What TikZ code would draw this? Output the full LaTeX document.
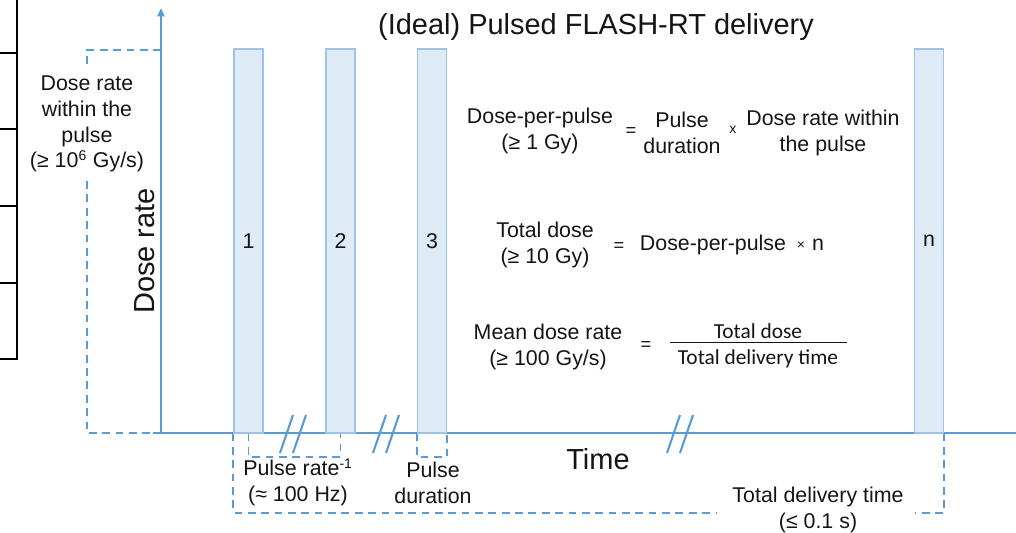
\documentclass[tikz,border=0pt]{standalone}
\usepackage{fontspec}
\setmainfont{Liberation Sans}
\newfontfamily\calfont{Carlito}
\usetikzlibrary{arrows.meta,positioning}
\definecolor{AxisBlue}{RGB}{91,155,213}
\definecolor{PulseFill}{RGB}{222,235,247}
\definecolor{PulseEdge}{RGB}{157,195,230}
\definecolor{InkGray}{RGB}{20,20,20}
\newcommand{\bodysize}{\fontsize{15.2}{18.4}\selectfont}
\newcommand{\bigsize}{\fontsize{20.6}{24}\selectfont}
\newcommand{\supsize}{\fontsize{10}{12}\selectfont}
\setlength{\arrayrulewidth}{1pt}
\tikzset{
  axisline/.style={AxisBlue,line width=1.7pt},
  pulsebar/.style={draw=PulseEdge,fill=PulseFill,line width=0.8pt,inner sep=0pt,
    minimum width=0.725cm,minimum height=9.6cm,font=\bodysize,text=InkGray},
  bracket/.style={AxisBlue,line width=1.4pt,dash pattern=on 5.5pt off 4pt},
  txt/.style={align=center,font=\bodysize,text=InkGray,inner sep=1pt},
  biglabel/.style={font=\bigsize,text=InkGray,inner sep=1pt},
  eqsign/.style={font=\fontsize{13}{15}\selectfont,text=InkGray,inner sep=1pt},
  timessign/.style={font=\fontsize{10}{12}\selectfont,text=InkGray,inner sep=1pt},
  edgeline/.style={black,line width=2pt}
}
\begin{document}
\begin{tikzpicture}[x=0.025cm,y=-0.025cm]
\useasboundingbox (0,0) rectangle (1016,532);
% cropped frame at the left edge
\draw[edgeline] (17,0) -- (17,359) -- (0,359);
\foreach \yy in {53,129,206,283}
  \draw[edgeline] (0,\yy) -- (17,\yy);
% axes
\coordinate (O) at (161,433);
\coordinate (tick) at (161,50);
\draw[axisline] (153,433) -- (1016,433);
\draw[axisline,-{Triangle[length=6pt,width=5pt]}] (O) -- (161,8);
\draw[axisline] (153,50) -- (tick);
% pulses
\foreach \nm/\xx/\txt in {p1/248.5/1,p2/340.5/2,p3/432/3,pn/929/n}
  \node[pulsebar] (\nm) at (\xx,241) {\txt};
% breaks in the time axis
\foreach \bx in {280,373,667}{
  \draw[axisline,line width=1.5pt] (\bx,453) -- ++(13,-38);
  \draw[axisline,line width=1.5pt] (\bx+13,453) -- ++(13,-38);}
% axis labels
\node[biglabel] (title) at (596,27) {(Ideal) Pulsed FLASH-RT delivery};
\node[biglabel,rotate=90] (ylab) at (145,251) {Dose rate};
\node[biglabel] (xlab) at (598,459) {Time};
\node[txt,inner sep=6pt] (drlab) at (87,124) {Dose rate\\within the\\pulse\\(≥ 10\textsuperscript{\supsize 6} Gy/s)};
\draw[bracket] (tick) -| (drlab.north);
\draw[bracket] (drlab.south) |- (O);
% brackets under the time axis
\draw[bracket] (p1.south) -- ++(0,23) -| (p2.south);
\draw[bracket] (p3.south west) -- ++(0,23) -| (p3.south east);
\node[txt] (rate) at (298,482) {Pulse rate\textsuperscript{\supsize -1}\\(≈ 100 Hz)};
\node[txt] (dur) at (433,483) {Pulse\\duration};
\node[txt] (total) at (818,510) {Total delivery time\\(≤ 0.1 s)};
\draw[bracket] (p1.south west) -- ++(0,79) -- ++(484,0);
\draw[bracket] (pn.south east) -- ++(0,79) -- ++(-29,0);
% relations
\node[txt] (dpp) at (540,131) {Dose-per-pulse\\(≥ 1 Gy)};
\node[eqsign] (eq1) at (631,132) {=};
\node[txt] (pdur) at (682,133) {Pulse\\duration};
\node[timessign] (x1) at (733,130) {x};
\node[txt] (drw) at (823,133) {Dose rate within\\the pulse};
\node[txt] (td) at (545,245) {Total dose\\(≥ 10 Gy)};
\node[eqsign] (eq2) at (619,247) {=};
\node[txt] (dpp2) at (713,245) {Dose-per-pulse};
\node[timessign] (x2) at (801,246) {×};
\node[txt] (nn) at (818,245) {n};
\node[txt] (mdr) at (548,347) {Mean dose rate\\(≥ 100 Gy/s)};
\node[eqsign] (eq3) at (646,346) {=};
\node[txt,font=\calfont\bodysize] (frac) at (758,346)
  {\begin{tabular}{@{\hspace{6pt}}c@{\hspace{6pt}}}Total dose\\[-3pt]\hline\rule{0pt}{15pt}Total delivery time\end{tabular}};
\end{tikzpicture}
\end{document}
